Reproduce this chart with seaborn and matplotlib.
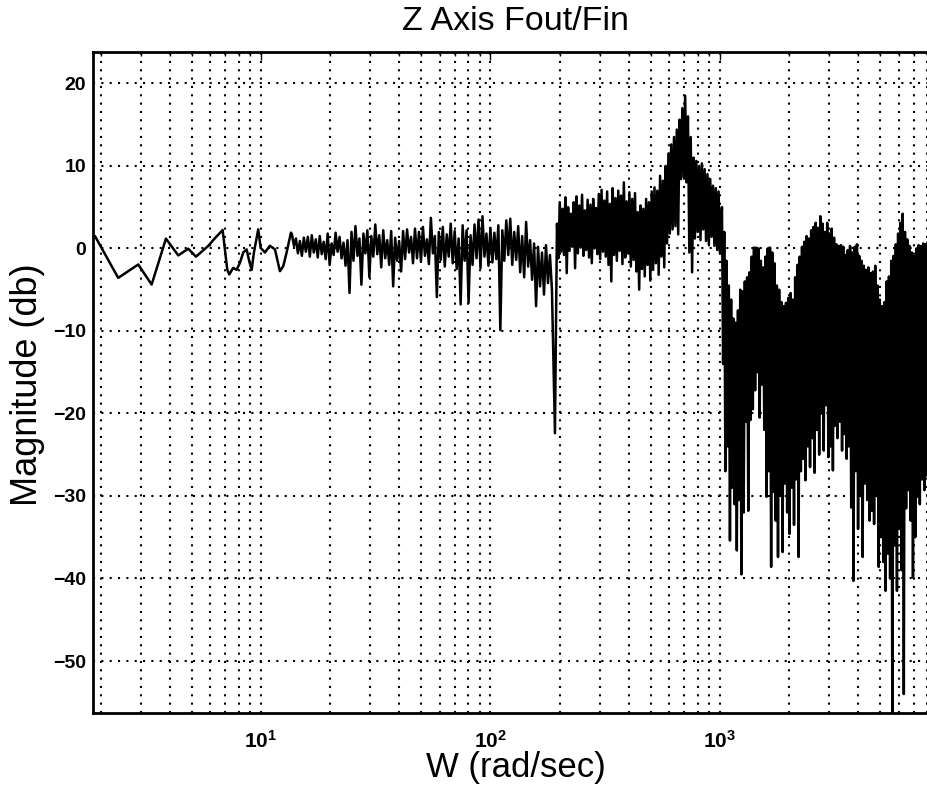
import numpy as np
import pandas as pd
import matplotlib
matplotlib.use("Agg")
import matplotlib.pyplot as plt
import seaborn as sns
from matplotlib.ticker import FixedLocator, NullFormatter

# --- data (dB vs rad/sec) ---

# low-frequency part: sparse enough to read point by point
w_low = [1.891, 2.389, 2.920, 3.341, 3.856, 4.363, 4.823, 5.211, 5.893, 6.241,
         6.810, 6.969, 7.132, 7.276, 7.574, 7.837, 8.101, 8.374, 8.664, 8.892,
         9.110, 9.322, 9.732, 9.970, 10.41, 10.94, 11.51, 12.10, 12.51, 12.94,
         13.51]
db_low = [1.5, -3.57, -1.95, -4.38, 1.18, -0.85, -0.04, -1.0, 0.3, 1.1,
          2.23, -0.12, -2.55, -3.16, -2.35, -2.6, -1.74, -0.49, -0.12, -1.54,
          -2.6, -0.49, 2.31, 0.08, -0.49, 0.32, -0.12, -2.76, -2.15, -0.49,
          1.91]

# dense parts: upper / lower swing of the trace, column by column
w_mid_range = (13.65, 185.3)
db_mid_hi = [1.7, 1.2, 0.9, 1.3, 1.4, 1.6, 1.1, 1.5, 0.8, 1.8,
             0.6, 1.9, 1.4, 0.7, 1.0, 2.0, 2.7, 1.2, 1.8, 2.2,
             1.5, 2.9, 1.6, 2.2, 1.0, 2.1, 1.3, 0.9, 2.1, 2.3,
             1.4, 2.4, 2.0, 2.6, 1.1, 3.7, 1.5, 2.0, 2.6, 1.7,
             3.0, 2.1, 1.2, 2.8, 2.2, 1.6, 2.9, 3.5, 3.9, 1.8,
             2.5, 1.9, 2.8, 2.2, 3.4, 3.6, 2.0, 2.7, 1.5, 3.2,
             1.0, 0.6, 0.2, -0.5, 0.4, -0.8]
db_mid_lo = [0.3, -0.6, -0.9, -0.4, -1.0, -0.5, -1.1, -0.7, -1.3, -2.0,
             -0.8, -0.4, -1.2, -2.1, -5.4, -1.5, -0.9, -4.4, -0.6, -3.5,
             -1.0, -0.7, -2.3, -1.2, -2.0, -4.6, -1.5, -2.8, -1.3, -0.5,
             -1.8, -1.2, -1.6, -0.9, -1.9, -0.6, -5.9, -1.4, -2.2, -1.0,
             -1.8, -2.5, -6.8, -1.5, -6.6, -2.0, -1.2, -2.4, -1.0, -2.1,
             -1.7, -1.3, -9.9, -1.5, -0.8, -2.0, -1.4, -2.9, -3.5, -2.2,
             -3.8, -7.0, -4.6, -5.6, -4.2, -5.0]

# single deep notch just below 200 rad/sec
w_notch = [191.0]
db_notch = [-22.4]

w_res_range = (194.9, 1000.0)
db_res_hi = [3.0, 5.6, 4.8, 6.2, 5.0, 4.2, 5.6, 6.3, 5.2, 6.5,
             4.6, 5.9, 5.3, 6.0, 4.9, 6.6, 7.1, 5.8, 6.9, 5.4,
             7.3, 6.1, 7.0, 6.4, 8.0, 5.7, 6.8, 6.0, 6.7, 4.4,
             5.2, 4.8, 6.0, 5.6, 6.9, 7.4, 7.0, 8.8, 8.2, 10.0,
             11.5, 12.6, 13.5, 14.4, 15.6, 17.0, 18.5, 16.0, 13.5, 11.0,
             10.6, 10.0, 10.3, 9.6, 9.0, 8.4, 7.6, 7.3, 6.9]
db_res_lo = [-1.2, -0.4, -0.8, -3.0, -0.3, 0.2, -2.4, -0.6, 0.1, -0.9,
             -0.2, -1.1, -1.8, 0.0, -0.7, -1.3, -0.4, -1.0, -2.0, -4.0,
             -0.8, -1.5, -0.3, -1.9, -1.1, -0.6, -2.2, -1.4, -2.8, -5.0,
             -2.5, -3.4, -2.0, -3.9, -2.6, -1.8, -3.2, -1.0, -2.3, 0.6,
             1.8, 2.3, 2.7, 1.7, 8.4, 8.6, 8.0, -0.5, -2.9, 1.2,
             2.0, 1.0, 2.3, 0.9, 0.5, 1.4, 0.3, -0.2, -0.6]

w_high_range = (1020.0, 8140.0)
db_high_hi = [5.0, 2.0, -1.5, -4.5, -6.2, -8.5, -9.0, -7.5, -5.0, -5.2,
              -4.0, -3.5, -2.9, -1.0, 0.1, 0.1, 0.0, -1.5, -2.3, -1.0,
              0.0, 0.1, -0.5, -1.8, -4.5, -5.0, -6.5, -7.0, -6.6, -6.0,
              -5.4, -6.2, -3.5, -2.0, -1.0, 0.2, 0.8, 1.5, 1.2, 2.2,
              2.6, 3.1, 2.5, 3.9, 3.0, 2.0, 3.1, 1.8, 2.4, 1.3,
              0.5, 0.3, 0.4, 0.2, -0.8, -0.2, 0.3, -0.5, 0.2, 0.5,
              -0.9, -1.5, -2.1, -2.6, -2.3, -3.0, -2.8, -2.1, -4.5, -6.2,
              -7.0, -6.5, -4.0, -3.4, -1.5, -0.9, 0.5, 1.8, 3.1, 4.2,
              2.0, 1.1, 0.3, -0.5, -0.9, 0.0, 0.4, 0.3, 0.6, 0.5,
              0.8]
db_high_lo = [-14.0, -27.0, -24.0, -35.4, -29.0, -31.0, -36.6, -30.5, -39.5, -32.0,
              -21.0, -31.8, -20.8, -19.5, -17.2, -15.0, -20.5, -16.5, -22.0, -30.1,
              -27.0, -38.6, -29.5, -33.0, -37.4, -30.0, -36.8, -28.5, -32.0, -34.6,
              -29.0, -33.5, -28.0, -37.4, -27.0, -25.5, -28.1, -24.0, -26.5, -23.0,
              -27.2, -22.0, -25.0, -20.0, -24.5, -19.0, -25.3, -24.0, -26.9, -21.5,
              -23.0, -21.0, -24.5, -22.5, -25.5, -24.0, -31.4, -40.3, -27.0, -34.0,
              -30.0, -37.4, -28.5, -30.5, -33.0, -31.8, -33.4, -30.0, -38.6, -35.0,
              -38.0, -41.5, -37.0, -40.0, -60.0, -36.0, -41.5, -34.0, -39.0, -54.0,
              -31.5, -29.3, -33.0, -39.9, -35.0, -30.1, -31.0, -28.0, -29.3, -27.5,
              -28.0]

y_ticks = [-50, -40, -30, -20, -10, 0, 10, 20]
x_ticks = [10, 100, 1000]
x_ticklabels = [r"$\mathbf{10^{1}}$", r"$\mathbf{10^{2}}$", r"$\mathbf{10^{3}}$"]


def swing(w_range, hi, lo):
    # trace goes up to hi, down to lo, column after column
    w = np.geomspace(w_range[0], w_range[1], 2 * len(hi))
    db = np.column_stack([hi, lo]).ravel()
    return w, db


w_mid, db_mid = swing(w_mid_range, db_mid_hi, db_mid_lo)
w_res, db_res = swing(w_res_range, db_res_hi, db_res_lo)
w_high, db_high = swing(w_high_range, db_high_hi, db_high_lo)

df = pd.DataFrame({
    "w": np.concatenate([w_low, w_mid, w_notch, w_res, w_high]),
    "db": np.concatenate([db_low, db_mid, db_notch, db_res, db_high]),
})

sns.set_theme(style="white")
plt.rcParams["font.family"] = ["Liberation Sans", "DejaVu Sans"]
plt.rcParams["mathtext.fontset"] = "custom"
plt.rcParams["mathtext.rm"] = "Liberation Sans"
plt.rcParams["mathtext.bf"] = "Liberation Sans:bold"
plt.rcParams["text.color"] = "black"
plt.rcParams["axes.labelcolor"] = "black"
plt.rcParams["xtick.color"] = "black"
plt.rcParams["ytick.color"] = "black"

fig = plt.figure(figsize=(9.27, 7.9), dpi=100)
ax = fig.add_axes([93 / 927, 1 - 713 / 790, (949.5 - 93) / 927, (713 - 52) / 790])

sns.lineplot(data=df, x="w", y="db", sort=False, estimator=None,
             color="black", lw=1.8, ax=ax)

ax.set_xscale("log")
ax.set_xlim(1.855, 10000)
ax.set_ylim(-56.3, 23.8)

ax.xaxis.set_major_locator(FixedLocator(x_ticks))
ax.set_xticklabels(x_ticklabels)
minor = [m * 10 ** e for e in range(0, 4) for m in range(2, 10)]
ax.xaxis.set_minor_locator(FixedLocator(minor))
ax.xaxis.set_minor_formatter(NullFormatter())
ax.yaxis.set_major_locator(FixedLocator(y_ticks))

ax.set_axisbelow(True)
dots = (0, (1, 3))
ax.grid(True, which="both", axis="x", color="black", ls=dots, lw=1.5)
ax.grid(True, which="major", axis="y", color="black", ls=dots, lw=1.5)

for s in ax.spines.values():
    s.set_color("black")
    s.set_linewidth(2.0)

ax.tick_params(axis="both", which="both", direction="in", top=True, right=True,
               color="black", width=1)
ax.tick_params(axis="both", which="major", length=6)
ax.tick_params(axis="x", which="minor", length=3)
ax.tick_params(axis="y", labelsize=14, pad=5)
ax.tick_params(axis="x", labelsize=15, pad=12)
for lab in ax.get_yticklabels():
    lab.set_fontweight("bold")

ax.set_title("Z Axis Fout/Fin", fontsize=24.5, x=(516 - 93) / 856.5,
             y=1 + (52 - 22) / 661, va="center", pad=0)
ax.set_xlabel("W (rad/sec)", fontsize=25)
ax.xaxis.set_label_coords((516 - 93) / 856.5, (713 - 768) / 661)
ax.xaxis.label.set_va("center")
ax.set_ylabel("Magnitude (db)", fontsize=26)
ax.yaxis.set_label_coords((28 - 93) / 856.5, (713 - 385) / 661)
ax.yaxis.label.set_va("center")

fig.savefig("out.png", dpi=100)
